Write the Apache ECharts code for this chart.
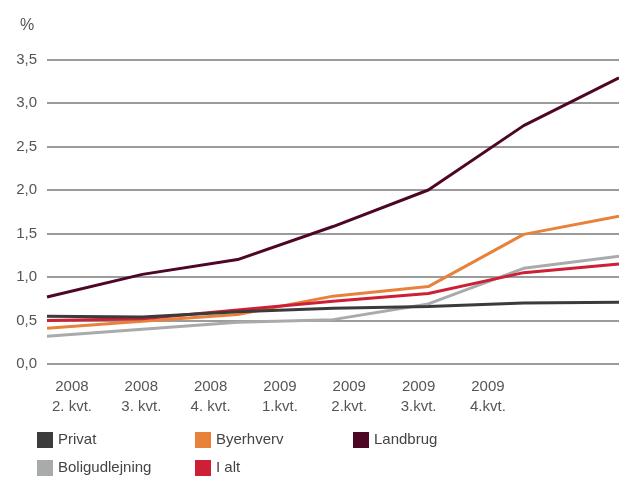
<!DOCTYPE html>
<html>
<head>
<meta charset="utf-8">
<script src="https://cdn.jsdelivr.net/npm/echarts@6/dist/echarts.min.js"></script>
<style>
  html, body { margin: 0; padding: 0; background: #fff; }
  #chart { width: 619px; height: 481px; }
</style>
</head>
<body>
<div id="chart"></div>
<script>
// Quarter labels (year / quarter)
const quarters = ['2008\n2. kvt.', '2008\n3. kvt.', '2008\n4. kvt.', '2009\n1.kvt.', '2009\n2.kvt.', '2009\n3.kvt.', '2009\n4.kvt.'];

// Series values, in percent
const privat = [0.55, 0.54, 0.60, 0.64, 0.66, 0.70, 0.71];
const byerhverv = [0.41, 0.49, 0.57, 0.78, 0.89, 1.49, 1.70];
const landbrug = [0.77, 1.03, 1.20, 1.58, 2.00, 2.74, 3.29];
const boligudlejning = [0.32, 0.40, 0.48, 0.51, 0.69, 1.10, 1.24];
const iAlt = [0.50, 0.52, 0.62, 0.72, 0.81, 1.05, 1.15];

const seriesNames = ['Privat', 'Byerhverv', 'Landbrug', 'Boligudlejning', 'I alt'];
const seriesColors = ['#3b3b3b', '#e8813a', '#4d0626', '#a9aaac', '#cd1f35'];

const FONT = 'Liberation Sans';
const chart = echarts.init(document.getElementById('chart'), null, { renderer: 'canvas' });

function lineSeries(name, data, color, z) {
  return {
    name: name, type: 'line', data: data,
    xAxisIndex: 0, yAxisIndex: 0,
    symbol: 'none', z: z,
    lineStyle: { color: color, width: 3 },
    itemStyle: { color: color }
  };
}

// Legend laid out as a 3-column grid: one legend component per entry
const legendSlots = [[37, 432], [195, 432], [353, 432], [37, 460], [195, 460]];
const legends = seriesNames.map((name, i) => ({
  data: [name], left: legendSlots[i][0], top: legendSlots[i][1],
  icon: 'rect', itemWidth: 16, itemHeight: 16, selectedMode: false, padding: 0,
  textStyle: { fontFamily: FONT, fontSize: 15, color: '#444', padding: [0, 0, 0, 0] }
}));

chart.setOption({
  animation: false,
  backgroundColor: '#fff',
  title: {
    text: '%', left: 15, top: 13,
    textStyle: { fontFamily: FONT, fontSize: 16, fontWeight: 'normal', color: '#555' }
  },
  legend: legends,
  grid: [
    { left: 47, right: 0, top: 59.5, bottom: 117 },
    { left: 37.3, width: 485.3, top: 364, height: 1 }
  ],
  xAxis: [
    {
      type: 'category', gridIndex: 0, data: quarters, boundaryGap: false,
      axisLine: { show: false }, axisTick: { show: false }, axisLabel: { show: false },
      splitLine: { show: false }
    },
    {
      type: 'category', gridIndex: 1, data: quarters, boundaryGap: true,
      axisLine: { show: false }, axisTick: { show: false },
      axisLabel: {
        margin: 12, fontFamily: FONT, fontSize: 15, color: '#555', lineHeight: 20,
        interval: 0
      }
    }
  ],
  yAxis: [
    {
      type: 'value', gridIndex: 0, min: 0, max: 3.5, interval: 0.5,
      axisLine: { show: false }, axisTick: { show: false },
      axisLabel: {
        margin: 10, fontFamily: FONT, fontSize: 15, color: '#555',
        formatter: v => v.toFixed(1).replace('.', ',')
      },
      splitLine: { lineStyle: { color: '#7a7a7a', width: 1.5 } }
    },
    { type: 'value', gridIndex: 1, show: false }
  ],
  series: [
    lineSeries('Boligudlejning', boligudlejning, seriesColors[3], 2),
    lineSeries('Byerhverv', byerhverv, seriesColors[1], 3),
    lineSeries('I alt', iAlt, seriesColors[4], 4),
    lineSeries('Privat', privat, seriesColors[0], 5),
    lineSeries('Landbrug', landbrug, seriesColors[2], 6)
  ]
});
</script>
</body>
</html>
